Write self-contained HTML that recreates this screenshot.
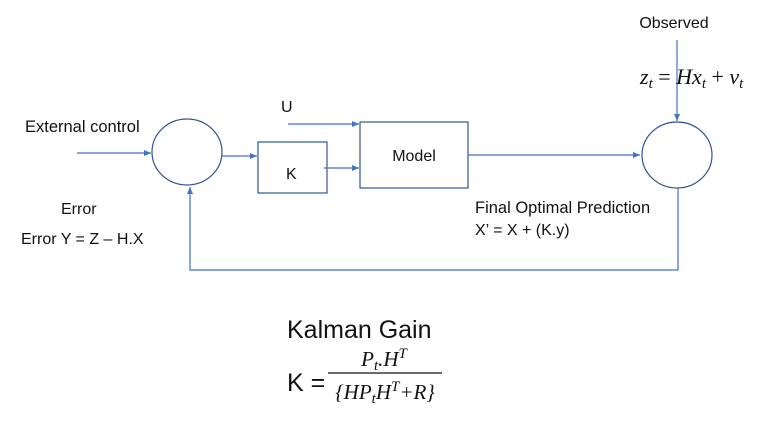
<!DOCTYPE html>
<html><head><meta charset="utf-8"><style>
body{margin:0;background:#fff}
svg{display:block;font-family:"Liberation Sans",sans-serif}
.m{font-family:"Liberation Serif",serif;font-style:italic}
</style></head><body>
<svg width="771" height="426" viewBox="0 0 771 426">
<defs><marker id="a" markerWidth="8" markerHeight="8" refX="7" refY="4" orient="auto" markerUnits="userSpaceOnUse"><path d="M0,1 L7,4 L0,7 Z" fill="#4472c4"/></marker></defs>
<g stroke="#4472c4" stroke-width="1.2" fill="none">
<line x1="77" y1="153" x2="151" y2="153" marker-end="url(#a)"/>
<ellipse cx="187" cy="152" rx="35" ry="33" stroke="#2f5597"/>
<line x1="222" y1="156" x2="257" y2="156" marker-end="url(#a)"/>
<rect x="258" y="142" width="69" height="51" stroke="#2f5597"/>
<line x1="324" y1="168" x2="359" y2="168" marker-end="url(#a)"/>
<line x1="288" y1="124" x2="359" y2="124" marker-end="url(#a)"/>
<rect x="360" y="122" width="108" height="66" stroke="#2f5597"/>
<line x1="468" y1="155" x2="640" y2="155" marker-end="url(#a)"/>
<ellipse cx="677" cy="155" rx="35" ry="33" stroke="#2f5597"/>
<line x1="677" y1="40" x2="677" y2="121" marker-end="url(#a)"/>
<polyline points="678,188 678,270 190,270 190,187" marker-end="url(#a)"/>
</g>
<g fill="#111" font-size="16">
<text x="25" y="132" font-size="16.5">External control</text>
<text x="281" y="112">U</text>
<text x="286" y="179">K</text>
<text x="414" y="161" text-anchor="middle">Model</text>
<text x="61" y="214">Error</text>
<text x="21" y="244">Error Y = Z – H.X</text>
<text x="674" y="28" text-anchor="middle">Observed</text>
<text x="640" y="84" font-size="22" class="m">z<tspan font-size="15" dy="4">t</tspan><tspan dy="-4" font-style="normal"> = </tspan>Hx<tspan font-size="15" dy="4">t</tspan><tspan dy="-4" font-style="normal"> + </tspan>v<tspan font-size="15" dy="4">t</tspan></text>
<text x="475" y="213" font-size="16.5">Final Optimal Prediction</text>
<text x="475" y="235">X’ = X + (K.y)</text>
<text x="287" y="338" font-size="25">Kalman Gain</text>
<text x="287" y="391" font-size="25">K =</text>
<text x="384" y="366" text-anchor="middle" font-size="21" class="m">P<tspan font-size="15" dy="4">t</tspan><tspan dy="-4">.H</tspan><tspan font-size="15" dy="-8">T</tspan></text>
<line x1="328" y1="373" x2="442" y2="373" stroke="#111" stroke-width="1.2"/>
<text x="385" y="399" text-anchor="middle" font-size="21" class="m">{HP<tspan font-size="15" dy="4">t</tspan><tspan dy="-4">H</tspan><tspan font-size="15" dy="-8">T</tspan><tspan dy="8">+R}</tspan></text>
</g>
</svg>
</body></html>
